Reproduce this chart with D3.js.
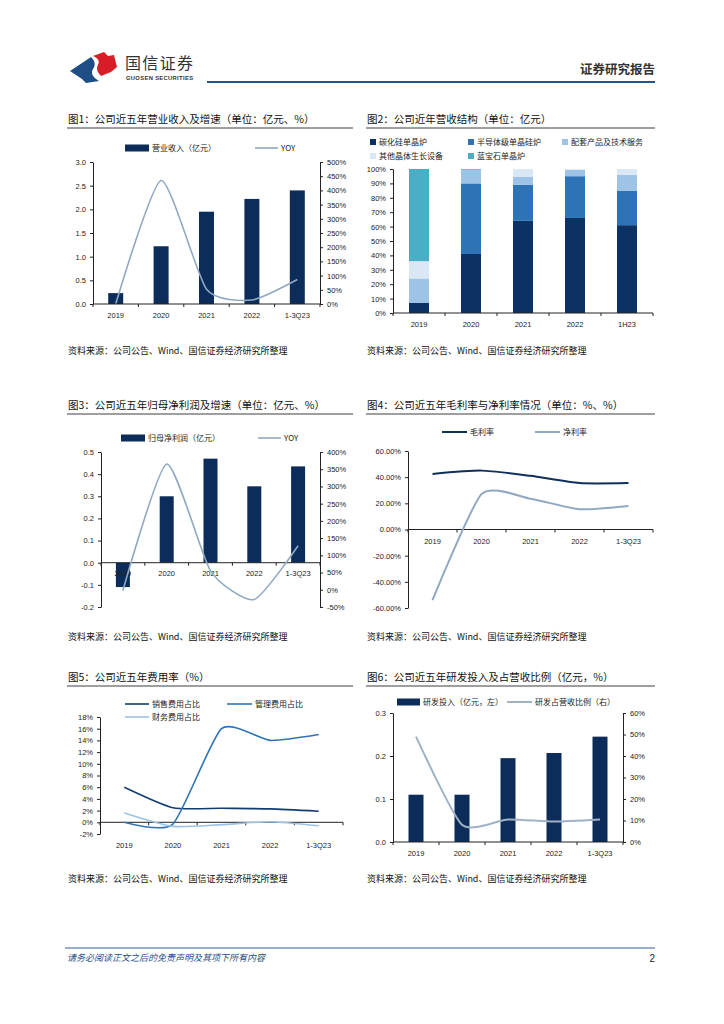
<!DOCTYPE html>
<html>
<head>
<meta charset="utf-8">
<script src="https://cdn.jsdelivr.net/npm/d3@7"></script>
<style>
body { margin: 0; background: #fff; }
svg text { font-family: "Liberation Sans", "Noto Sans CJK SC", sans-serif; }
.cn { font-family: "Noto Sans CJK SC", sans-serif; }
</style>
</head>
<body>
<div id="page"></div>
<script>
// ---- data ----
var years = ["2019", "2020", "2021", "2022", "1-3Q23"];
var halfYears = ["2019", "2020", "2021", "2022", "1H23"];

// fig 1: revenue (100m yuan) and yoy (%)
var revenue = [0.23, 1.22, 1.95, 2.22, 2.40];
var revenueYoy = [0, 435, 52, 14, 86];

// fig 2: revenue structure (%)
var structNames = ["碳化硅单晶炉", "半导体级单晶硅炉", "配套产品及技术服务", "其他晶体生长设备", "蓝宝石单晶炉"];
var sicFurnace = [7, 41, 64, 66, 61];
var semiFurnace = [0, 49, 25, 29, 24];
var supportService = [17, 9.5, 5.5, 4.5, 11];
var otherEquip = [12, 0, 5.5, 0.5, 4];
var sapphire = [64, 0.5, 0, 0, 0];

// fig 3: net profit attributable (100m yuan) and yoy (%)
var netProfit = [-0.11, 0.30, 0.47, 0.345, 0.435];
var netProfitYoy = [-2, 365, 55, -28, 128];

// fig 4: margins (%)
var grossMargin = [42.5, 45, 41, 35.5, 35.5];
var netMargin = [-54, 27, 23.5, 15.5, 18];

// fig 5: expense ratios (%)
var sellingRatio = [6, 2.5, 2.4, 2.3, 1.9];
var adminRatio = [0, -0.3, 16, 14, 15];
var financeRatio = [1.6, -0.7, -0.4, 0.1, -0.6];

// fig 6: R&D spend (100m yuan) and share of revenue (%)
var rdSpend = [0.11, 0.11, 0.195, 0.207, 0.245];
var rdShare = [49, 8, 10.5, 9.5, 10.5];

// tick labels
var ticks1L = [0, 0.5, 1, 1.5, 2, 2.5, 3];
var ticks1R = [0, 50, 100, 150, 200, 250, 300, 350, 400, 450, 500];
var ticks2 = [0, 10, 20, 30, 40, 50, 60, 70, 80, 90, 100];
var ticks3L = [-0.2, -0.1, 0, 0.1, 0.2, 0.3, 0.4, 0.5];
var ticks3R = [-50, 0, 50, 100, 150, 200, 250, 300, 350, 400];
var ticks4 = [-60, -40, -20, 0, 20, 40, 60];
var ticks5 = [-2, 0, 2, 4, 6, 8, 10, 12, 14, 16, 18];
var ticks6L = [0, 0.1, 0.2, 0.3];
var ticks6R = [0, 10, 20, 30, 40, 50, 60];

var navy = "#0c2d5a";
var grayBlue = "#8fa9c2";

var svg = d3.select("#page").append("svg")
  .attr("width", 724)
  .attr("height", 1024);

var minus = s => s.replace("−", "-");

// ---- header / footer ----
var head = svg.append("g");
head.append("path")
  .attr("d", "M70,71 L91,57 C95,61 96,65 93,69 C90,74 94,78 99,81 L86,83 L82,79 Z")
  .attr("fill", "#1f4e86");
head.append("path")
  .attr("d", "M93,56 L104,52 L108,56 L114,55 L117,67 L111,72 L101,76 C97,72 96,68 98,65 C100,61 98,58 93,56 Z")
  .attr("fill", "#d71e28");
head.append("text").attr("class", "cn")
  .attr("x", 125).attr("y", 69)
  .attr("font-size", 16).attr("fill", "#333")
  .attr("textLength", 68)
  .text("国信证券");
head.append("text")
  .attr("x", 126).attr("y", 80)
  .attr("font-size", 5.8).attr("fill", "#333").attr("font-weight", "bold")
  .attr("textLength", 67)
  .text("GUOSEN SECURITIES");
head.append("line")
  .attr("x1", 207).attr("x2", 655).attr("y1", 82).attr("y2", 82)
  .attr("stroke", "#1f5590").attr("stroke-width", 2);
head.append("text").attr("class", "cn")
  .attr("x", 655).attr("y", 74).attr("text-anchor", "end")
  .attr("font-size", 12.5).attr("fill", "#333").attr("font-weight", "bold")
  .text("证券研究报告");

svg.append("line")
  .attr("x1", 65).attr("x2", 655).attr("y1", 948).attr("y2", 948)
  .attr("stroke", "#2f5f95").attr("stroke-width", 1);
svg.append("text").attr("class", "cn")
  .attr("x", 67).attr("y", 961)
  .attr("font-size", 9).attr("fill", "#1f4e86").attr("font-style", "italic")
  .text("请务必阅读正文之后的免责声明及其项下所有内容");
svg.append("text")
  .attr("x", 655).attr("y", 962).attr("text-anchor", "end")
  .attr("font-size", 10).attr("fill", "#222")
  .text("2");

// ---- helpers ----
function title(x, y, x2, text) {
  svg.append("text").attr("class", "cn")
    .attr("x", x).attr("y", y)
    .attr("font-size", 10.5).attr("fill", "#111")
    .text(text);
  svg.append("line")
    .attr("x1", x - 1).attr("x2", x2).attr("y1", y + 5).attr("y2", y + 5)
    .attr("stroke", "#7f7f7f").attr("stroke-width", 1.3);
}

function source(x, y) {
  svg.append("text").attr("class", "cn")
    .attr("x", x).attr("y", y)
    .attr("font-size", 9).attr("fill", "#111")
    .text("资料来源：公司公告、Wind、国信证券经济研究所整理");
}

function styleAxis(g) {
  g.select(".domain").attr("stroke", "#222");
  g.selectAll(".tick line").attr("stroke", "#222");
  g.selectAll(".tick text").attr("font-size", 7.5).attr("fill", "#222");
}

function leftAxis(scale, x, vals, fmt) {
  var g = svg.append("g")
    .attr("transform", `translate(${x},0)`)
    .call(d3.axisLeft(scale).tickValues(vals).tickFormat(v => minus(fmt(v)))
      .tickSize(3).tickSizeOuter(0).tickPadding(4));
  styleAxis(g);
  return g;
}

function rightAxis(scale, x, vals, fmt) {
  var g = svg.append("g")
    .attr("transform", `translate(${x},0)`)
    .call(d3.axisRight(scale).tickValues(vals).tickFormat(v => minus(fmt(v)))
      .tickSize(3).tickSizeOuter(0).tickPadding(4));
  styleAxis(g);
  return g;
}

// category axis with ticks at band boundaries, labels at band centres
function catAxis(xs, y, labelY) {
  var r = xs.range();
  svg.append("line")
    .attr("x1", r[0]).attr("x2", r[1]).attr("y1", y).attr("y2", y)
    .attr("stroke", "#222");
  var edges = d3.range(xs.domain().length + 1).map(i => r[0] + i * xs.step());
  svg.append("g").selectAll("line").data(edges).enter().append("line")
    .attr("x1", d => d).attr("x2", d => d)
    .attr("y1", y).attr("y2", y + 3)
    .attr("stroke", "#222");
  svg.append("g").selectAll("text").data(xs.domain()).enter().append("text")
    .attr("x", d => xs(d) + xs.bandwidth() / 2)
    .attr("y", labelY)
    .attr("text-anchor", "middle")
    .attr("font-size", 7.5).attr("fill", "#222")
    .text(d => d);
}

function bars(xs, ys, cats, vals, w, color) {
  svg.append("g").selectAll("rect").data(vals).enter().append("rect")
    .attr("x", (d, i) => xs(cats[i]) + (xs.bandwidth() - w) / 2)
    .attr("width", w)
    .attr("y", d => Math.min(ys(d), ys(0)))
    .attr("height", d => Math.abs(ys(d) - ys(0)))
    .attr("fill", color);
}

// excel-like smoothed line, a bit tighter than catmull-rom
function curve(xs, ys, cats, vals, color, width) {
  var line = d3.line()
    .x((d, i) => xs(cats[i]) + xs.bandwidth() / 2)
    .y(d => ys(d))
    .curve(d3.curveCardinal.tension(0.4));
  svg.append("path")
    .datum(vals)
    .attr("d", line)
    .attr("fill", "none")
    .attr("stroke", color)
    .attr("stroke-width", width);
}

function legendRect(x, y, w, h, color, text) {
  svg.append("rect").attr("x", x).attr("y", y - h / 2).attr("width", w).attr("height", h).attr("fill", color);
  svg.append("text").attr("class", "cn")
    .attr("x", x + w + 3).attr("y", y + 3)
    .attr("font-size", 8).attr("fill", "#222")
    .text(text);
}

function legendLine(x, y, w, color, sw, text) {
  svg.append("line").attr("x1", x).attr("x2", x + w).attr("y1", y).attr("y2", y)
    .attr("stroke", color).attr("stroke-width", sw);
  svg.append("text").attr("class", "cn")
    .attr("x", x + w + 3).attr("y", y + 3)
    .attr("font-size", 8).attr("fill", "#222")
    .text(text);
}

var f1 = d3.format(".1f");
var pct = v => v + "%";

// ---- fig 1 ----
title(68, 123, 353, "图1：公司近五年营业收入及增速（单位：亿元、%）");
var x1 = d3.scaleBand().domain(years).range([93, 320]);
var y1L = d3.scaleLinear().domain([0, 3]).range([304, 162]);
var y1R = d3.scaleLinear().domain([0, 500]).range([304, 162]);
bars(x1, y1L, years, revenue, 15, navy);
curve(x1, y1R, years, revenueYoy, grayBlue, 1.6);
leftAxis(y1L, 93, ticks1L, f1);
rightAxis(y1R, 320, ticks1R, pct);
catAxis(x1, 304, 318);
legendRect(125, 148, 24, 7, navy, "营业收入（亿元）");
legendLine(255, 148, 23, grayBlue, 1.6, "YOY");
source(68, 354);

// ---- fig 2 ----
title(367, 123, 655, "图2：公司近年营收结构（单位：亿元）");
var x2 = d3.scaleBand().domain(halfYears).range([393, 653]);
var y2 = d3.scaleLinear().domain([0, 100]).range([313, 169]);
var structSeries = [sicFurnace, semiFurnace, supportService, otherEquip, sapphire];
var structColors = ["#0b3262", "#2e73b5", "#9dc3e6", "#dae7f5", "#4aaec7"];
var structRows = halfYears.map((c, i) => {
  var r = { cat: c };
  structNames.forEach((n, k) => { r[n] = structSeries[k][i]; });
  return r;
});
var stacked = d3.stack().keys(structNames)(structRows);
svg.append("g").selectAll("g").data(stacked).enter().append("g")
  .attr("fill", (d, k) => structColors[k])
  .selectAll("rect").data(d => d).enter().append("rect")
  .attr("x", d => x2(d.data.cat) + (x2.bandwidth() - 20) / 2)
  .attr("width", 20)
  .attr("y", d => y2(d[1]))
  .attr("height", d => y2(d[0]) - y2(d[1]));
leftAxis(y2, 393, ticks2, pct);
catAxis(x2, 313, 327);
legendRect(370, 142, 6, 6, structColors[0], structNames[0]);
legendRect(468, 142, 6, 6, structColors[1], structNames[1]);
legendRect(562, 142, 6, 6, structColors[2], structNames[2]);
legendRect(370, 156, 6, 6, structColors[3], structNames[3]);
legendRect(468, 156, 6, 6, structColors[4], structNames[4]);
source(367, 354);

// ---- fig 3 ----
title(68, 409, 353, "图3：公司近五年归母净利润及增速（单位：亿元、%）");
var x3 = d3.scaleBand().domain(years).range([101, 320]);
var y3L = d3.scaleLinear().domain([-0.2, 0.5]).range([607, 452]);
var y3R = d3.scaleLinear().domain([-50, 400]).range([607, 452]);
bars(x3, y3L, years, netProfit, 14, navy);
leftAxis(y3L, 101, ticks3L, f1);
rightAxis(y3R, 320, ticks3R, pct);
catAxis(x3, y3L(0), 576);
curve(x3, y3R, years, netProfitYoy, grayBlue, 1.6);
legendRect(121, 438, 24, 7, navy, "归母净利润（亿元）");
legendLine(258, 438, 23, grayBlue, 1.6, "YOY");
source(68, 640);

// ---- fig 4 ----
title(367, 409, 655, "图4：公司近五年毛利率与净利率情况（单位：%、%）");
var x4 = d3.scaleBand().domain(years).range([408, 653]);
var y4 = d3.scaleLinear().domain([-60, 60]).range([608, 451]);
leftAxis(y4, 408, ticks4, v => v.toFixed(2) + "%");
catAxis(x4, y4(0), 544);
curve(x4, y4, years, grossMargin, "#0f2f5c", 2);
curve(x4, y4, years, netMargin, grayBlue, 2);
legendLine(442, 432, 25, "#0f2f5c", 2, "毛利率");
legendLine(535, 432, 25, grayBlue, 2, "净利率");
source(367, 640);

// ---- fig 5 ----
title(68, 681, 353, "图5：公司近五年费用率（%）");
var x5 = d3.scaleBand().domain(years).range([100, 343]);
var y5 = d3.scaleLinear().domain([-2, 18]).range([834, 717]);
leftAxis(y5, 100, ticks5, pct);
catAxis(x5, y5(0), 848);
curve(x5, y5, years, sellingRatio, "#123c72", 1.6);
curve(x5, y5, years, adminRatio, "#2f73b5", 1.6);
curve(x5, y5, years, financeRatio, "#9cc2e5", 1.6);
legendLine(125, 704, 24, "#123c72", 1.6, "销售费用占比");
legendLine(227, 704, 25, "#2f73b5", 1.6, "管理费用占比");
legendLine(125, 717, 24, "#9cc2e5", 1.6, "财务费用占比");
source(68, 882);

// ---- fig 6 ----
title(367, 681, 655, "图6：公司近五年研发投入及占营收比例（亿元，%）");
var x6 = d3.scaleBand().domain(years).range([393, 623]);
var y6L = d3.scaleLinear().domain([0, 0.3]).range([842, 713]);
var y6R = d3.scaleLinear().domain([0, 60]).range([842, 713]);
bars(x6, y6L, years, rdSpend, 15, navy);
curve(x6, y6R, years, rdShare, "#9fb2c6", 2);
leftAxis(y6L, 393, ticks6L, f1);
rightAxis(y6R, 623, ticks6R, pct);
catAxis(x6, 842, 856);
legendRect(397, 702, 23, 7, navy, "研发投入（亿元，左）");
legendLine(507, 702, 25, "#9fb2c6", 2, "研发占营收比例（右）");
source(367, 882);
</script>
</body>
</html>
